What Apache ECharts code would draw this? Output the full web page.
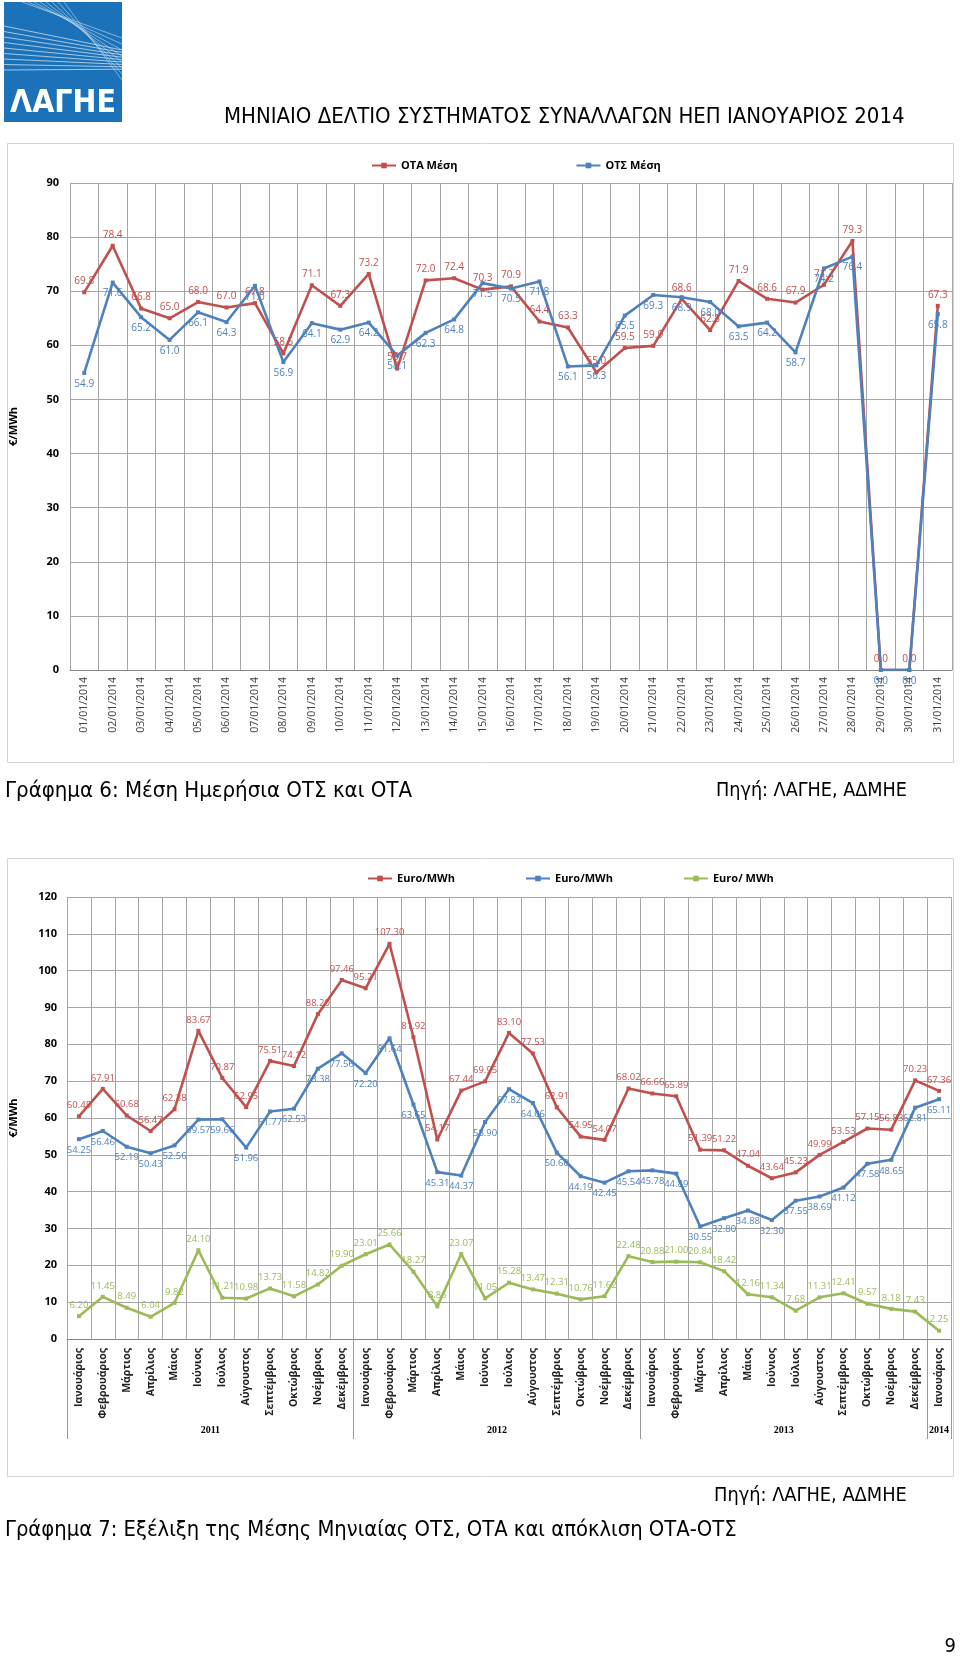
<!DOCTYPE html>
<html><head><meta charset="utf-8">
<script src="https://cdn.jsdelivr.net/npm/echarts@6/dist/echarts.min.js"></script>
<style>html,body{margin:0;padding:0;background:#fff}#c{width:960px;height:1658px}</style>
</head><body><div id="c"></div>
<script>
// ---------- DATA: chart 6 (daily) ----------
const dailyDates = ['01/01/2014','02/01/2014','03/01/2014','04/01/2014','05/01/2014','06/01/2014','07/01/2014','08/01/2014','09/01/2014','10/01/2014','11/01/2014','12/01/2014','13/01/2014','14/01/2014','15/01/2014','16/01/2014','17/01/2014','18/01/2014','19/01/2014','20/01/2014','21/01/2014','22/01/2014','23/01/2014','24/01/2014','25/01/2014','26/01/2014','27/01/2014','28/01/2014','29/01/2014','30/01/2014','31/01/2014'];
const otaDaily = [69.8,78.4,66.8,65.0,68.0,67.0,67.8,58.5,71.1,67.3,73.2,55.7,72.0,72.4,70.3,70.9,64.4,63.3,55.0,59.5,59.9,68.6,62.8,71.9,68.6,67.9,71.2,79.3,0.0,0.0,67.3];
const otsDaily = [54.9,71.6,65.2,61.0,66.1,64.3,71.0,56.9,64.1,62.9,64.2,58.1,62.3,64.8,71.5,70.5,71.8,56.1,56.3,65.5,69.3,68.9,68.0,63.5,64.2,58.7,74.2,76.4,0.0,0.0,65.8];
const dailyNames = ['ΟΤΑ Μέση','ΟΤΣ Μέση'];
const dailyTicks = [0,10,20,30,40,50,60,70,80,90];

// ---------- DATA: chart 7 (monthly) ----------
const monthNames = ['Ιανουάριος','Φεβρουάριος','Μάρτιος','Απρίλιος','Μάιος','Ιούνιος','Ιούλιος','Αύγουστος','Σεπτέμβριος','Οκτώβριος','Νοέμβριος','Δεκέμβριος'];
const yearLabels = ['2011','2012','2013','2014'];
const monthsPerYear = [12,12,12,1];
const otaMonthly = [60.45,67.91,60.68,56.47,62.38,83.67,70.87,62.95,75.51,74.12,88.20,97.46,
                    95.21,107.30,81.92,54.17,67.44,69.95,83.10,77.53,62.91,54.95,54.07,68.02,
                    66.66,65.89,51.39,51.22,47.04,43.64,45.23,49.99,53.53,57.15,56.83,70.23,
                    67.36];
const otsMonthly = [54.25,56.46,52.19,50.43,52.56,59.57,59.66,51.96,61.77,62.53,73.38,77.56,
                    72.20,81.64,63.65,45.31,44.37,58.90,67.82,64.06,50.60,44.19,42.45,45.54,
                    45.78,44.89,30.55,32.80,34.88,32.30,37.55,38.69,41.12,47.58,48.65,62.81,
                    65.11];
const diffMonthly = [6.20,11.45,8.49,6.04,9.82,24.10,11.21,10.98,13.73,11.58,14.82,19.90,
                     23.01,25.66,18.27,8.86,23.07,11.05,15.28,13.47,12.31,10.76,11.62,22.48,
                     20.88,21.00,20.84,18.42,12.16,11.34,7.68,11.31,12.41,9.57,8.18,7.43,
                     2.25];
const monthlyNames = ['Euro/MWh','Euro/MWh\u200b','Euro/ MWh'];
const monthlyTicks = [0,10,20,30,40,50,60,70,80,90,100,110,120];

// ---------- TEXTS ----------
const headerTitle = 'ΜΗΝΙΑΙΟ ΔΕΛΤΙΟ ΣΥΣΤΗΜΑΤΟΣ ΣΥΝΑΛΛΑΓΩΝ ΗΕΠ ΙΑΝΟΥΑΡΙΟΣ 2014';
const caption6 = 'Γράφημα 6: Μέση Ημερήσια ΟΤΣ και ΟΤΑ';
const caption7 = 'Γράφημα 7: Εξέλιξη της Μέσης Μηνιαίας ΟΤΣ, ΟΤΑ και απόκλιση ΟΤΑ-ΟΤΣ';
const sourceText = 'Πηγή: ΛΑΓΗΕ, ΑΔΜΗΕ';
const unitName = '€/MWh';
const logoText = 'ΛΑΓΗΕ';
const pageNumber = '9';

// derived categories
const monthCats = [];
monthsPerYear.forEach(n => { for (let i = 0; i < n; i++) monthCats.push(monthNames[i]); });
const yearCenters = []; const yearBounds = [0];
{ let acc = 0; monthsPerYear.forEach(n => { yearCenters.push(acc + n / 2); acc += n; yearBounds.push(acc); }); }

const CAP_FONT = "'Liberation Sans Narrow','DejaVu Sans Condensed','Open Sans',sans-serif";
const UI_FONT = "'Open Sans','Noto Sans',sans-serif";
const LBL_FONT = "'Liberation Sans Narrow','Open Sans',sans-serif";
const mctx = document.createElement('canvas').getContext('2d');
function fitSize(text, family, target, weight) {
  mctx.font = (weight || 'normal') + ' 100px ' + family;
  return Math.min(32, 100 * target / mctx.measureText(text).width);
}
function txt(text, x, y, target, align) {
  return { type: 'text', x: x, y: y, z: 10,
    style: { text: text, fontFamily: CAP_FONT, fontSize: fitSize(text, CAP_FONT, target),
      fill: '#000', align: align || 'left', verticalAlign: 'middle' } };
}

const RED = '#c0504d', BLUE = '#4f81bd', GREEN = '#9bbb59', GRID = '#a6a6a6';

const chart = echarts.init(document.getElementById('c'), null, { renderer: 'canvas' });

// logo
const logo = [{ type: 'rect', shape: { x: 4, y: 2, width: 118, height: 120 }, style: { fill: '#1c72b8' } }];
for (let i = 0; i < 9; i++) {
  logo.push({ type: 'line', shape: { x1: 4, y1: 26 + i * 5.5, x2: 122, y2: 50 + i * 2.4 },
    style: { stroke: 'rgba(255,255,255,0.6)', lineWidth: 1 } });
}
for (let i = 0; i < 8; i++) {
  logo.push({ type: 'line', shape: { x1: 22 + i * 6, y1: 2, x2: 122, y2: 38 + i * 6 },
    style: { stroke: 'rgba(210,230,245,0.55)', lineWidth: 1 } });
}
logo.push({ type: 'text', x: 63, y: 104, z: 5, style: { text: logoText, fontFamily: CAP_FONT,
  fontWeight: 'bold', fontSize: fitSize(logoText, CAP_FONT, 106, 'bold'), fill: '#fff', align: 'center', verticalAlign: 'middle' } });

const graphics = logo.concat([
  txt(headerTitle, 224, 117, 681),
  { type: 'rect', shape: { x: 7.5, y: 143.5, width: 946, height: 619 }, style: { fill: 'none', stroke: '#d4d4d4', lineWidth: 1 } },
  txt(caption6, 5, 791, 407),
  txt(sourceText, 716, 791, 191),
  { type: 'rect', shape: { x: 7.5, y: 858.5, width: 946, height: 618 }, style: { fill: 'none', stroke: '#d4d4d4', lineWidth: 1 } },
  txt(sourceText, 714, 1496, 193),
  txt(caption7, 5, 1530, 732),
  { type: 'text', x: 956, y: 1647, style: { text: pageNumber, fontFamily: CAP_FONT, fontSize: 20, fill: '#000', align: 'right', verticalAlign: 'middle' } }
]);

function yAxisCfg(grid, max, gap, margin) {
  return { type: 'value', gridIndex: grid, min: 0, max: max, interval: 10,
    name: unitName, nameLocation: 'middle', nameGap: gap, nameRotate: 90,
    nameTextStyle: { fontWeight: 'bold', fontSize: 11, color: '#000', fontFamily: UI_FONT },
    axisLine: { show: false }, axisTick: { show: false },
    axisLabel: { fontWeight: 'bold', fontSize: 11, color: '#000', margin: margin, fontFamily: UI_FONT },
    splitLine: { lineStyle: { color: GRID, width: 1 } } };
}
function lineSeries(name, data, color, xi, yi, pos, dec, fs) {
  return { name: name, type: 'line', xAxisIndex: xi, yAxisIndex: yi, data: data,
    symbol: 'rect', symbolSize: 4, color: color,
    lineStyle: { color: color, width: 2.6 }, itemStyle: { color: color },
    label: { show: true, position: pos, distance: 4, fontSize: fs, color: color, fontFamily: LBL_FONT,
      formatter: p => Number(p.value).toFixed(dec) } };
}

const option = {
  animation: false,
  backgroundColor: '#ffffff',
  graphic: graphics,
  legend: [
    { data: dailyNames, left: 366, top: 155, itemGap: 118, itemWidth: 24, itemHeight: 7,
      textStyle: { fontWeight: 'bold', fontSize: 11, color: '#000', fontFamily: UI_FONT } },
    { data: monthlyNames, left: 362, top: 868, itemGap: 70, itemWidth: 24, itemHeight: 7,
      textStyle: { fontWeight: 'bold', fontSize: 11, color: '#000', fontFamily: UI_FONT } }
  ],
  grid: [
    { left: 66, right: 8, top: 183, height: 487 },
    { left: 63, right: 9, top: 897, height: 442 }
  ],
  xAxis: [
    { type: 'category', gridIndex: 0, data: dailyDates, boundaryGap: true,
      axisLine: { lineStyle: { color: '#868686' } },
      axisTick: { interval: 0, length: 5, lineStyle: { color: '#868686' } },
      splitLine: { show: true, interval: 0, lineStyle: { color: GRID } },
      axisLabel: { interval: 0, rotate: 90, fontSize: 10.5, color: '#404040', margin: 7, fontFamily: UI_FONT } },
    { type: 'category', gridIndex: 1, data: monthCats, boundaryGap: true,
      axisLine: { lineStyle: { color: '#868686' } },
      axisTick: { interval: 0, length: 80, lineStyle: { color: '#9a9a9a' } },
      splitLine: { show: true, interval: 0, lineStyle: { color: GRID } },
      axisLabel: { interval: 0, rotate: 90, fontSize: 10.5, fontWeight: 'bold', color: '#222', margin: 9, fontFamily: UI_FONT } },
    { type: 'value', gridIndex: 1, min: 0, max: monthCats.length, position: 'bottom',
      axisLine: { show: false }, splitLine: { show: false },
      axisTick: { show: true, customValues: yearBounds, length: 100, lineStyle: { color: '#9a9a9a' } },
      axisLabel: { show: true, customValues: yearCenters, margin: 86, fontSize: 10, fontWeight: 'bold',
        color: '#000', fontFamily: "'Liberation Serif','DejaVu Serif',serif",
        formatter: v => { const i = yearCenters.indexOf(v); return i >= 0 ? yearLabels[i] : ''; } } }
  ],
  yAxis: [ yAxisCfg(0, 90, 51, 11), yAxisCfg(1, 120, 48, 10) ],
  series: [
    lineSeries(dailyNames[0], otaDaily, RED, 0, 0, 'top', 1, 10),
    lineSeries(dailyNames[1], otsDaily, BLUE, 0, 0, 'bottom', 1, 10),
    lineSeries(monthlyNames[0], otaMonthly, RED, 1, 1, 'top', 2, 9.5),
    lineSeries(monthlyNames[1], otsMonthly, BLUE, 1, 1, 'bottom', 2, 9.5),
    lineSeries(monthlyNames[2], diffMonthly, GREEN, 1, 1, 'top', 2, 9.5)
  ]
};
chart.setOption(option);
</script></body></html>
